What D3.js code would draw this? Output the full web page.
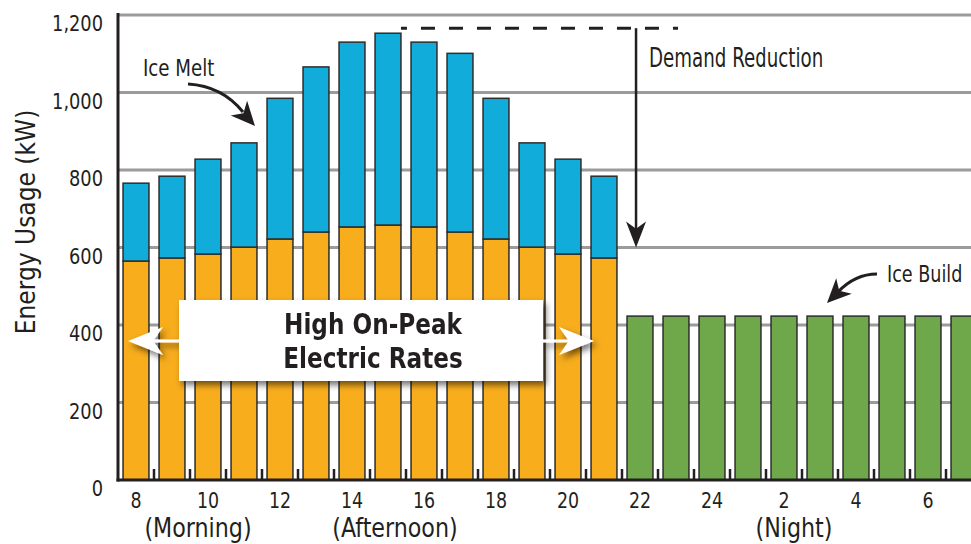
<!DOCTYPE html>
<html>
<head>
<meta charset="utf-8">
<script src="https://cdn.jsdelivr.net/npm/d3@7/dist/d3.min.js"></script>
<style>
  html, body { margin: 0; padding: 0; background: #fff; overflow: hidden; }
  svg { display: block; }
  text { font-family: "Liberation Sans Narrow", "DejaVu Sans Condensed", "Arial Narrow", sans-serif; fill: #231f20; }
</style>
</head>
<body>
<svg id="chart" width="971" height="544"></svg>
<script>
// ---------- data ----------
const hours = ["8","9","10","11","12","13","14","15","16","17","18","19","20","21",
               "22","23","24","1","2","3","4","5","6","7"];
const onPeakHours = ["8","9","10","11","12","13","14","15","16","17","18","19","20","21"];
const baseLoad = [565, 573, 583, 601, 622, 640, 653, 658, 653, 640, 622, 601, 583, 573];
const iceMelt  = [201, 211, 245, 269, 363, 426, 477, 495, 477, 461, 363, 269, 245, 211];
const offPeakHours = ["22","23","24","1","2","3","4","5","6","7"];
const iceBuild = [423, 423, 423, 423, 423, 423, 423, 423, 423, 423];
const xTickLabels = ["8","10","12","14","16","18","20","22","24","2","4","6"];
const yTicks = [0, 200, 400, 600, 800, 1000, 1200];
const periodLabels = ["(Morning)", "(Afternoon)", "(Night)"];
const periodHours = ["10", "15", "2"];
const demandLevel = 1166;
const demandTarget = 600;

// ---------- setup ----------
const svg = d3.select("#chart");
const x = d3.scaleBand().domain(hours).range([118, 118 + 24 * 36]).paddingInner(0.28).paddingOuter(0.14);
const y = d3.scaleLinear().domain([0, 1200]).range([480, 15]);
const bw = x.bandwidth();

const defs = svg.append("defs");
const f = defs.append("filter").attr("id", "shadow").attr("x", "-20%").attr("y", "-30%").attr("width", "150%").attr("height", "180%");
f.append("feDropShadow").attr("dx", 3).attr("dy", 4).attr("stdDeviation", 3).attr("flood-color", "#000").attr("flood-opacity", 0.55);

// condensed text helper
function label(g, tx, ty, str, size, anchor, sx, weight) {
  return g.append("text")
    .attr("transform", `translate(${tx},${ty}) scale(${sx},1)`)
    .attr("text-anchor", anchor || "start")
    .attr("font-size", size)
    .attr("font-weight", weight || "normal")
    .text(str);
}

// gridlines
svg.append("g").selectAll("line").data(yTicks.filter(d => d > 0)).join("line")
  .attr("x1", 118).attr("x2", 971)
  .attr("y1", d => y(d)).attr("y2", d => y(d))
  .attr("stroke", "#9b9b9b").attr("stroke-width", 3);

// bars
const barStroke = "#2d2d2d";
const gb = svg.append("g");
gb.selectAll("rect.base").data(onPeakHours).join("rect")
  .attr("x", d => x(d)).attr("width", bw)
  .attr("y", (d, i) => y(baseLoad[i])).attr("height", (d, i) => y(0) - y(baseLoad[i]))
  .attr("fill", "#f8ad1d").attr("stroke", barStroke).attr("stroke-width", 1.5);
gb.selectAll("rect.melt").data(onPeakHours).join("rect")
  .attr("x", d => x(d)).attr("width", bw)
  .attr("y", (d, i) => y(baseLoad[i] + iceMelt[i])).attr("height", (d, i) => y(baseLoad[i]) - y(baseLoad[i] + iceMelt[i]))
  .attr("fill", "#12acdb").attr("stroke", barStroke).attr("stroke-width", 1.5);
gb.selectAll("rect.build").data(offPeakHours).join("rect")
  .attr("x", d => x(d)).attr("width", bw)
  .attr("y", (d, i) => y(iceBuild[i])).attr("height", (d, i) => y(0) - y(iceBuild[i]))
  .attr("fill", "#6ea84a").attr("stroke", barStroke).attr("stroke-width", 1.5);

// small ticks between bars
const step = x.step();
svg.append("g").selectAll("line").data(hours.slice(0, 23)).join("line")
  .attr("x1", d => x(d) + bw + (step - bw) / 2).attr("x2", d => x(d) + bw + (step - bw) / 2)
  .attr("y1", y(0) - 11).attr("y2", y(0))
  .attr("stroke", "#231f20").attr("stroke-width", 2.5);

// axes lines
svg.append("line").attr("x1", 118).attr("x2", 118).attr("y1", y(1200) - 2).attr("y2", y(0) + 1.5)
  .attr("stroke", "#231f20").attr("stroke-width", 3);
svg.append("line").attr("x1", 116.5).attr("x2", 971).attr("y1", y(0)).attr("y2", y(0))
  .attr("stroke", "#231f20").attr("stroke-width", 3);

// y tick labels
const gy = svg.append("g");
yTicks.forEach(d => label(gy, 103, y(d) + 16, d3.format(",")(d), 22, "end", 0.9));

// y title
svg.append("text").attr("transform", "translate(35,222) rotate(-90)")
  .attr("text-anchor", "middle").attr("font-size", 26).text("Energy Usage (kW)");

// x tick labels
const gx = svg.append("g");
xTickLabels.forEach(d => label(gx, x(d) + bw / 2, 508, d, 22, "middle", 0.88));

// period labels
const gp = svg.append("g");
periodLabels.forEach((d, i) =>
  label(gp, x(periodHours[i]) + (i === 0 ? -10 : i === 1 ? 7 : 10) + bw / 2, 537, d, 26, "middle", 0.95));

// arrowhead helper (tip at 0,0 pointing +x)
function arrowHead(g, tx, ty, angle, len, half, fill) {
  g.append("path")
    .attr("d", `M0,0 L${-len},${-half} L${-len * 0.72},0 L${-len},${half} Z`)
    .attr("transform", `translate(${tx},${ty}) rotate(${angle})`)
    .attr("fill", fill);
}

// demand reduction
const ann = svg.append("g");
const dx1 = x("15") + bw, dx2 = x("23") + 15, ax = x("22") + 9;
ann.append("line").attr("x1", dx1).attr("x2", dx2).attr("y1", y(demandLevel)).attr("y2", y(demandLevel))
  .attr("stroke", "#231f20").attr("stroke-width", 3).attr("stroke-dasharray", "14,14").attr("stroke-dashoffset", 8);
ann.append("line").attr("x1", ax).attr("x2", ax).attr("y1", y(demandLevel)).attr("y2", y(demandTarget) - 15)
  .attr("stroke", "#231f20").attr("stroke-width", 2.5);
arrowHead(ann, ax, y(demandTarget), 90, 26, 10, "#231f20");
label(ann, ax + 13, 67, "Demand Reduction", 26, "start", 0.78);

// ice melt
label(ann, 143, 76, "Ice Melt", 23, "start", 0.88);
ann.append("path").attr("d", "M188,84 Q222,86 243,112")
  .attr("fill", "none").attr("stroke", "#231f20").attr("stroke-width", 3);
arrowHead(ann, 255, 126, 48, 24, 11, "#231f20");

// ice build
label(ann, 887, 282, "Ice Build", 23, "start", 0.85);
ann.append("path").attr("d", "M877,274 Q855,274 838,292")
  .attr("fill", "none").attr("stroke", "#231f20").attr("stroke-width", 3);
arrowHead(ann, 827, 303, 135, 24, 11, "#231f20");

// callout
const co = svg.append("g").attr("filter", "url(#shadow)");
const cy = 341;
co.append("line").attr("x1", 150).attr("x2", 180).attr("y1", cy).attr("y2", cy).attr("stroke", "#fff").attr("stroke-width", 3);
arrowHead(co, 128, cy, 180, 35, 14, "#fff");
co.append("line").attr("x1", 542).attr("x2", 572).attr("y1", cy).attr("y2", cy).attr("stroke", "#fff").attr("stroke-width", 3);
arrowHead(co, 594, cy, 0, 35, 14, "#fff");
co.append("rect").attr("x", 179).attr("y", 300).attr("width", 364).attr("height", 81).attr("fill", "#fff");
label(svg, 373, 334, "High On-Peak", 28, "middle", 0.92, "bold");
label(svg, 373, 368, "Electric Rates", 28, "middle", 0.92, "bold");
</script>
</body>
</html>
